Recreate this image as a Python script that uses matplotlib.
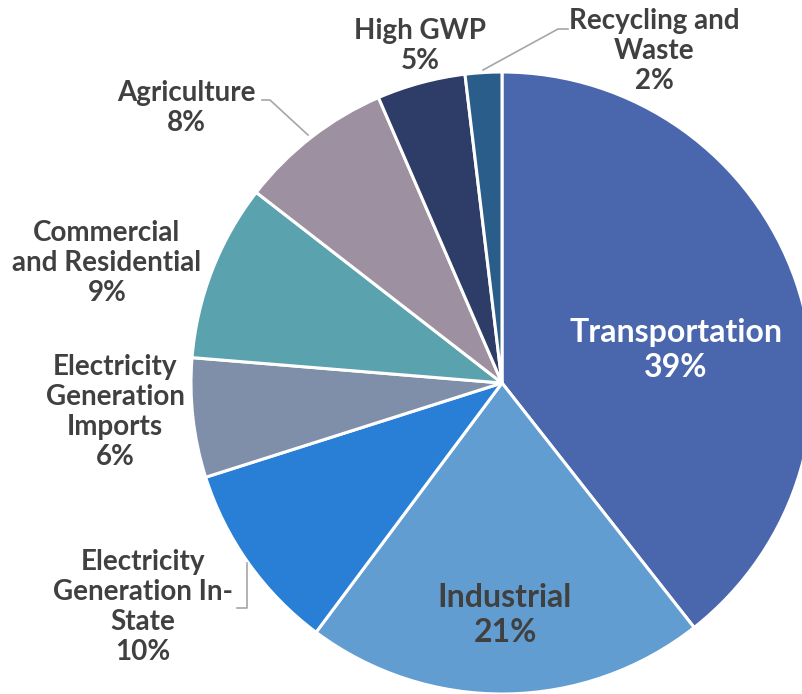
"""
Pie chart of emissions by sector (share of total).
"""

import matplotlib.pyplot as plt

# Data
sectors = [
    "Transportation",
    "Industrial",
    "Electricity\nGeneration In-\nState",
    "Electricity\nGeneration\nImports",
    "Commercial\nand Residential",
    "Agriculture",
    "High GWP",
    "Recycling and\nWaste",
]
shares = [39.4, 20.8, 9.9, 6.2, 9.2, 8.0, 4.6, 1.9]
colors = ["#4A66AC", "#629DD1", "#297FD5", "#7F8FA9",
          "#5AA2AE", "#9D90A0", "#2E3C68", "#2A5D8A"]

W, H = 803, 694
TEXT = "#404040"
LEADER = "#A6A6A6"


def main():
    plt.rcParams["font.family"] = ["Lato", "DejaVu Sans"]
    fig = plt.figure(figsize=(W / 100, H / 100), dpi=100)
    ax = fig.add_axes([0, 0, 1, 1])

    ax.pie(shares, colors=colors, startangle=90, counterclock=False,
           center=(502, H - 383), radius=311,
           wedgeprops=dict(edgecolor="white", linewidth=2.2))
    ax.set_xlim(0, W)
    ax.set_ylim(0, H)
    ax.set_aspect("equal")
    ax.axis("off")

    # label placement (pixel coords, y from top): x, y, inside?
    spots = [
        (676, 350, True),
        (505, 615, True),
        (143, 607, False),
        (115, 412, False),
        (107, 263, False),
        (186, 108, False),
        (420, 46, False),
        (654, 51, False),
    ]
    for name, share, (x, y, inside) in zip(sectors, shares, spots):
        label = f"{name}\n{round(share):.0f}%"
        if inside:
            color = "white" if name == "Transportation" else TEXT
            ax.text(x, H - y, label, ha="center", va="center",
                    fontsize=23, fontweight="bold", color=color,
                    linespacing=1.22)
        else:
            ax.text(x, H - y, label, ha="center", va="center",
                    fontsize=20, fontweight="bold", color=TEXT,
                    linespacing=1.2)

    # leader lines
    leaders = [
        ([483, 558, 568], [70, 29, 29]),
        ([262, 270, 308], [100, 100, 135]),
        ([237, 247, 247], [608, 608, 563]),
    ]
    for xs, ys in leaders:
        ax.plot(xs, [H - v for v in ys], color=LEADER, linewidth=1.2)

    fig.savefig("out.png", dpi=100)


if __name__ == "__main__":
    main()
